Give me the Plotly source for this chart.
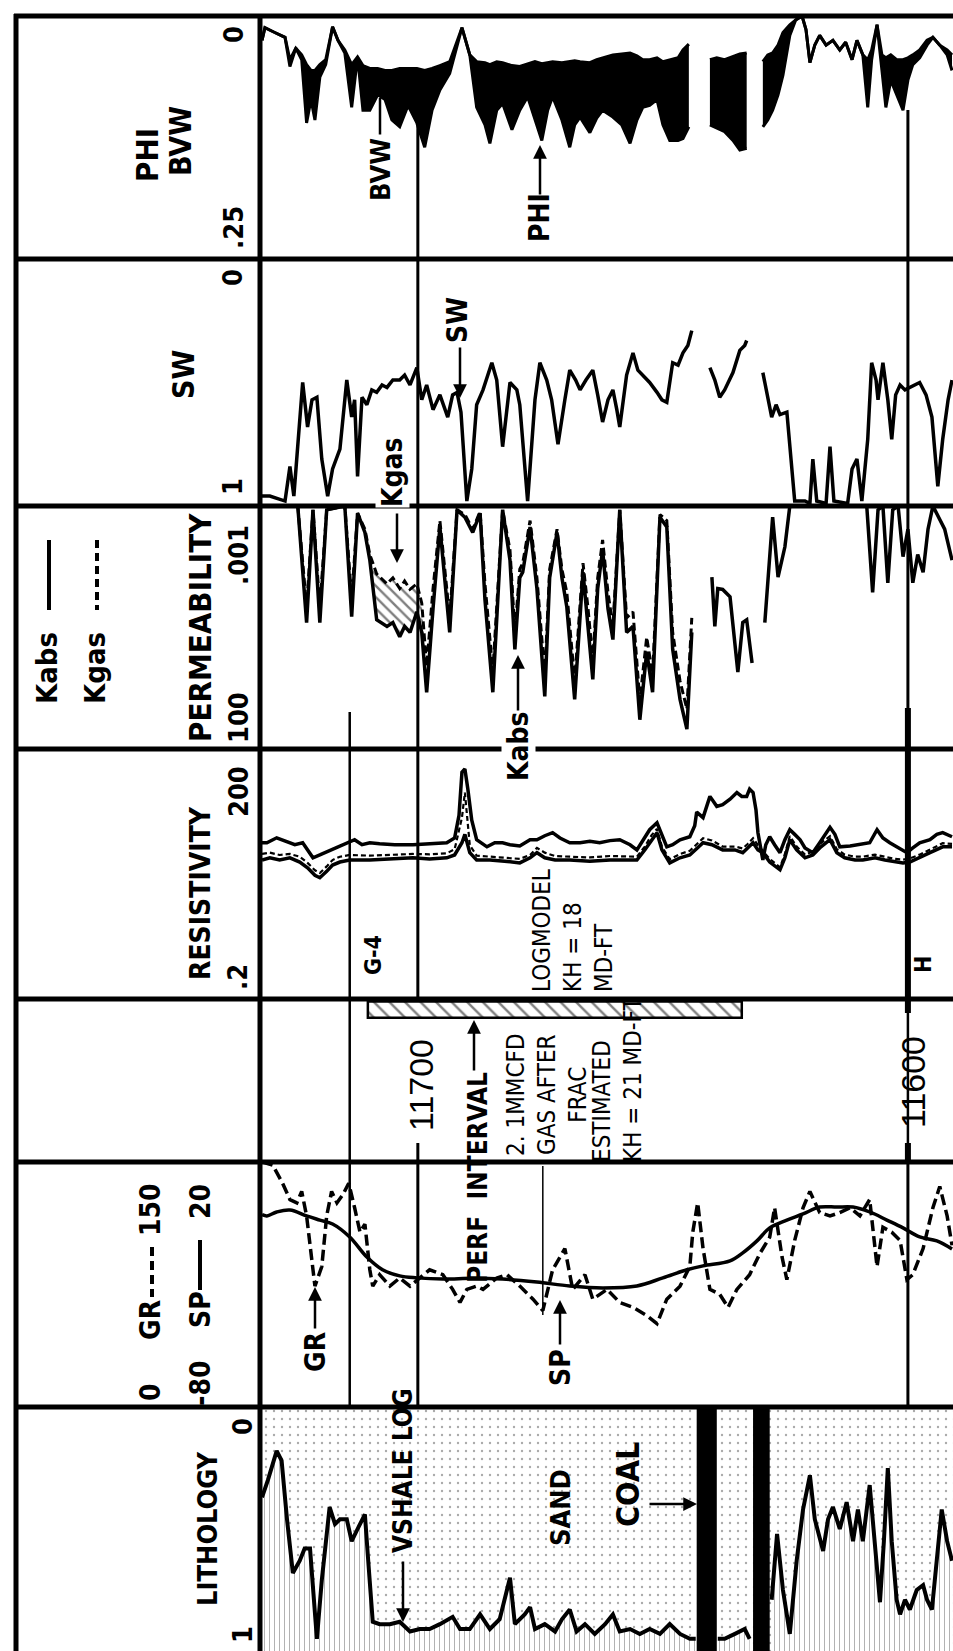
import plotly.graph_objects as go

W, H = 953, 1651
DEPTH_LEFT, DEPTH_RIGHT = 11731.8, 11590.8
TRACK_PX = [16, 259, 506, 749, 999, 1162, 1407, 1651]
NARROW = "Liberation Sans Narrow, DejaVu Sans Condensed, Arial Narrow, sans-serif"
SANS = "Liberation Sans, Arial, sans-serif"

# ---------------- data (depth in ft, values in curve units) ----------------
PHI_DEPTH = [11731.8, 11731.2, 11729.2, 11727.1, 11726.1, 11724.9, 11723.7, 11722.7, 11721.8, 11721.0,
             11720.0, 11718.8, 11717.4, 11716.3, 11714.9, 11713.5, 11712.3, 11711.2, 11709.8, 11708.2,
             11706.7, 11705.3, 11703.7, 11702.0, 11700.2, 11698.6, 11697.1, 11695.5, 11693.5, 11691.0,
             11689.4, 11688.0, 11686.3, 11685.3, 11683.9, 11682.7, 11680.8, 11679.2, 11677.6, 11676.1,
             11674.7, 11673.5, 11672.5, 11670.6, 11669.0, 11668.0, 11666.9, 11664.9, 11663.5, 11662.3,
             11660.2, 11658.4, 11656.7, 11655.3, 11654.1, 11652.7, 11651.2, 11650.0, 11648.6, 11646.9,
             11645.9, 11644.7, None,
             11640.4, 11639.0, 11637.4, 11635.7, 11634.3, 11632.9, None,
             11629.6, 11628.6, 11627.6, 11626.5, 11625.5, 11624.1, 11622.9, 11621.6, 11620.8, 11620.0,
             11619.0, 11618.0, 11616.7, 11615.3, 11613.9, 11612.7, 11611.4, 11610.4, 11609.2, 11608.2,
             11607.4, 11606.3, 11605.3, 11604.5, 11603.5, 11602.3, 11601.0, 11600.0, 11599.0, 11597.6,
             11596.1, 11594.9, 11593.5, 11592.0, 11591.0]
PHI = [0.025, 0.012, 0.017, 0.022, 0.052, 0.033, 0.045, 0.110, 0.086, 0.107,
       0.063, 0.050, 0.011, 0.025, 0.038, 0.094, 0.042, 0.097, 0.097, 0.081,
       0.086, 0.107, 0.114, 0.092, 0.110, 0.135, 0.097, 0.076, 0.059, 0.012,
       0.040, 0.094, 0.112, 0.131, 0.097, 0.090, 0.117, 0.097, 0.083, 0.107,
       0.128, 0.097, 0.083, 0.107, 0.135, 0.112, 0.104, 0.120, 0.105, 0.097,
       0.104, 0.112, 0.131, 0.107, 0.094, 0.092, 0.086, 0.112, 0.128, 0.128,
       0.126, 0.114, None,
       0.112, 0.115, 0.119, 0.128, 0.138, 0.136, None,
       0.114, 0.107, 0.097, 0.081, 0.061, 0.020, 0.004, 0.0, 0.014, 0.048,
       0.030, 0.020, 0.030, 0.025, 0.035, 0.027, 0.045, 0.025, 0.040, 0.094,
       0.045, 0.009, 0.056, 0.094, 0.066, 0.081, 0.097, 0.066, 0.050, 0.043,
       0.030, 0.022, 0.030, 0.040, 0.056]
BVW = [0.025, 0.012, 0.017, 0.022, 0.045, 0.033, 0.040, 0.050, 0.056, 0.056,
       0.050, 0.045, 0.011, 0.025, 0.035, 0.050, 0.042, 0.051, 0.054, 0.054,
       0.056, 0.056, 0.054, 0.054, 0.054, 0.056, 0.054, 0.051, 0.047, 0.012,
       0.040, 0.047, 0.048, 0.050, 0.047, 0.048, 0.051, 0.052, 0.049, 0.047,
       0.049, 0.048, 0.047, 0.048, 0.047, 0.046, 0.047, 0.048, 0.045, 0.043,
       0.040, 0.039, 0.038, 0.041, 0.045, 0.045, 0.043, 0.047, 0.045, 0.043,
       0.035, 0.029, None,
       0.045, 0.043, 0.045, 0.042, 0.039, 0.038, None,
       0.047, 0.040, 0.038, 0.030, 0.017, 0.009, 0.004, 0.0, 0.014, 0.048,
       0.030, 0.020, 0.030, 0.025, 0.035, 0.027, 0.045, 0.025, 0.040, 0.045,
       0.035, 0.009, 0.040, 0.043, 0.040, 0.045, 0.045, 0.043, 0.040, 0.035,
       0.025, 0.022, 0.030, 0.035, 0.040]

SW_DEPTH = [11731.8, 11730.2, 11727.1, 11726.1, 11725.3, 11723.5, 11722.5, 11721.6, 11720.6, 11719.6,
            11718.4, 11717.4, 11715.9, 11714.5, 11713.5, 11712.9, 11712.3, 11711.4, 11710.4, 11709.4,
            11708.4, 11707.3, 11706.3, 11705.1, 11703.7, 11702.7, 11701.6, 11700.2, 11699.2, 11698.2,
            11696.9, 11695.5, 11693.9, 11692.9, 11692.0, 11691.2, 11690.0, 11689.0, 11688.0, 11686.7,
            11684.9, 11683.9, 11682.7, 11681.2, 11679.8, 11679.2, 11677.6, 11676.1, 11675.1, 11673.7,
            11672.7, 11671.4, 11670.0, 11669.0, 11667.8, 11666.9, 11665.7, 11664.3, 11663.3, 11662.3,
            11661.2, 11660.2, 11659.4, 11658.8, 11657.4, 11656.1, 11655.1, 11653.7, 11652.7, 11651.2,
            11650.2, 11649.2, 11648.6, 11648.0, 11646.9, 11645.9, 11644.9, 11644.1, None,
            11640.4, 11639.4, 11638.4, 11637.4, 11635.7, 11634.7, 11634.3, 11633.3, 11632.9, None,
            11629.6, 11628.6, 11627.8, 11626.9, 11626.1, 11624.7, 11623.9, 11623.1, 11621.0, 11620.0,
            11619.4, 11618.6, 11616.7, 11615.9, 11615.1, 11612.3, 11611.4, 11610.4, 11609.4, 11608.2,
            11607.4, 11606.5, 11606.1, 11605.1, 11604.1, 11603.3, 11602.5, 11601.6, 11600.6, 11599.6,
            11598.6, 11597.6, 11596.3, 11595.1, 11593.9, 11592.9, 11591.8, 11591.0]
SW = [0.96, 0.96, 0.98, 0.84, 0.96, 0.50, 0.68, 0.57, 0.56, 0.81,
      0.96, 0.85, 0.77, 0.49, 0.64, 0.57, 0.88, 0.56, 0.59, 0.53,
      0.54, 0.51, 0.52, 0.49, 0.49, 0.47, 0.51, 0.44, 0.57, 0.51,
      0.61, 0.55, 0.64, 0.55, 0.54, 0.62, 0.98, 0.85, 0.59, 0.53,
      0.42, 0.49, 0.76, 0.50, 0.53, 0.59, 0.98, 0.57, 0.42, 0.49,
      0.57, 0.75, 0.57, 0.45, 0.49, 0.53, 0.49, 0.45, 0.55, 0.66,
      0.57, 0.53, 0.61, 0.68, 0.47, 0.38, 0.45, 0.48, 0.50, 0.54,
      0.57, 0.58, 0.49, 0.42, 0.43, 0.38, 0.35, 0.29, None,
      0.44, 0.49, 0.56, 0.53, 0.46, 0.39, 0.37, 0.35, 0.33, None,
      0.46, 0.57, 0.64, 0.59, 0.63, 0.62, 0.81, 0.98, 0.98, 0.99,
      0.81, 0.98, 0.99, 0.76, 0.98, 0.99, 0.85, 0.81, 0.98, 0.73,
      0.42, 0.49, 0.57, 0.42, 0.57, 0.73, 0.55, 0.51, 0.53, 0.52,
      0.51, 0.50, 0.55, 0.64, 0.92, 0.73, 0.57, 0.49]

PERM_DEPTH_A = [11731.8, 11724.5, 11722.7, 11721.4, 11720.0, 11718.6, 11714.9, 11713.5, 11712.3, 11710.8,
                11709.8, 11708.4, 11706.3, 11705.1, 11703.7, 11702.7, 11701.6, 11700.2, 11699.2, 11698.2,
                11696.9, 11695.5, 11693.5, 11692.0, 11690.4, 11688.8, 11687.3, 11686.3, 11684.7, 11682.7,
                11681.2, 11680.2, 11679.2, 11678.6, 11677.1, 11675.7, 11674.1, 11673.1, 11671.6, 11670.6,
                11669.6, 11668.0, 11666.3, 11665.3, 11664.3, 11663.3, 11662.3, 11661.2, 11660.2, 11658.8,
                11657.4, 11656.1, 11654.7, 11653.3, 11652.1, 11650.6, 11649.2, 11648.0, 11646.5, 11645.1,
                11644.1]
KABS_A = [0.001, 0.001, 0.25, 0.0012, 0.25, 0.0012, 0.001, 0.19, 0.0014, 0.0035,
          0.013, 0.22, 0.3, 0.25, 0.49, 0.3, 0.4, 0.15, 0.4, 6.8,
          0.13, 0.0027, 0.4, 0.0012, 0.0017, 0.0035, 0.0014, 0.085, 6.8, 0.0012,
          0.013, 0.89, 0.03, 0.023, 0.0027, 0.05, 8.3, 0.03, 0.0035, 0.03,
          0.12, 9.5, 0.023, 0.25, 3.7, 0.05, 0.008, 0.13, 0.56, 0.0012,
          0.4, 0.3, 25, 1.0, 6.8, 0.0017, 0.0027, 0.89, 9.5, 39,
          0.4]
KGAS_A = [0.001, 0.001, 0.12, 0.0012, 0.12, 0.0012, 0.001, 0.08, 0.0014, 0.003,
          0.01, 0.025, 0.04, 0.03, 0.05, 0.035, 0.052, 0.04, 0.1, 2.0,
          0.05, 0.002, 0.2, 0.0012, 0.0015, 0.003, 0.0013, 0.04, 2.5, 0.0012,
          0.008, 0.4, 0.02, 0.015, 0.002, 0.03, 3.0, 0.02, 0.003, 0.02,
          0.06, 4.0, 0.015, 0.12, 1.5, 0.03, 0.005, 0.06, 0.3, 0.0012,
          0.2, 0.15, 10, 0.5, 3.0, 0.0015, 0.002, 0.4, 4.0, 15,
          0.2]
KGAS_HATCH_TOP, KGAS_HATCH_BASE = 11709.8, 11698.2
PERM_DEPTH_B = [11640.0, 11639.4, 11638.8, 11637.8, 11636.3, 11634.7, 11633.7, 11632.9, 11631.8, None,
                11629.2, 11627.6, 11626.5, 11625.1, 11624.1, None,
                11608.4, 11607.2, 11606.1, 11605.1, 11604.1, 11603.1, 11602.0, 11601.0, 11600.0, 11599.0,
                11598.0, 11596.9, 11595.9, 11594.9, 11592.5, 11591.0]
KABS_B = [0.029, 0.3, 0.05, 0.052, 0.074, 2.6, 0.25, 0.22, 1.7, None,
          0.25, 0.0017, 0.029, 0.0069, 0.001, None,
          0.001, 0.06, 0.0012, 0.001, 0.038, 0.0012, 0.001, 0.011, 0.003, 0.038,
          0.01, 0.023, 0.003, 0.001, 0.003, 0.013]

RDEEP_DEPTH = [11731.8, 11730.8, 11728.8, 11726.7, 11725.1, 11723.5, 11722.5, 11721.4, 11720.0, 11718.6,
               11717.4, 11715.9, 11714.3, 11712.9, 11711.4, 11709.8, 11707.8, 11704.7, 11701.0, 11697.6,
               11694.1, 11692.5, 11691.6, 11691.0, 11690.4, 11689.8, 11689.0, 11688.0, 11685.9, 11684.3,
               11682.7, 11681.2, 11679.2, 11677.1, 11675.7, 11674.1, 11672.5, 11671.0, 11669.0, 11666.9,
               11664.9, 11662.9, 11660.8, 11658.8, 11656.7, 11655.3, 11653.7, 11652.7, 11651.2, 11650.2,
               11649.2, 11648.0, 11646.5, 11644.5, 11643.5, 11643.1, 11641.8, 11640.4, 11639.0, 11637.8,
               11636.3, 11634.9, 11633.9, 11632.9, 11632.3, 11631.6, 11631.0, 11630.6, 11629.6, 11629.0,
               11628.2, 11627.2, 11626.1, 11625.1, 11624.1, 11623.1, 11622.0, 11621.0, 11619.4, 11618.0,
               11616.9, 11615.9, 11614.9, 11613.9, 11611.8, 11609.8, 11607.8, 11606.3, 11605.1, 11603.7,
               11602.0, 11600.2, 11599.0, 11597.6, 11595.5, 11594.1, 11592.9, 11591.0]
RDEEP = [15.0, 15.0, 17.2, 15.6, 14.2, 15.0, 12.3, 9.9, 10.7, 11.6,
         12.3, 13.7, 15.0, 16.3, 14.2, 15.0, 14.6, 14.2, 14.2, 14.6,
         15.0, 17.1, 32, 105, 115, 66, 28, 16.3, 13.4, 15.0,
         15.0, 14.2, 13.7, 16.3, 16.3, 18.2, 19.8, 17.1, 15.0, 15.0,
         15.6, 15.0, 15.9, 16.3, 14.2, 12.3, 17.1, 21.5, 26, 18.7,
         13.4, 14.2, 16.3, 17.7, 24, 35, 30, 54, 41, 43,
         50, 60, 54, 54, 66, 60, 37, 19.8, 9.3, 14.2,
         17.7, 14.2, 11.4, 16.3, 21.5, 18.9, 16.3, 13.0, 11.4, 15.0,
         18.9, 23, 18.9, 13.4, 13.7, 14.2, 15.0, 21.5, 17.1, 15.0,
         13.0, 11.4, 13.0, 15.0, 16.3, 18.9, 19.8, 17.7]
RSH_DEPTH = [11731.8, 11730.2, 11728.2, 11726.1, 11724.1, 11722.5, 11721.0, 11720.0, 11718.6, 11717.4,
             11715.9, 11713.9, 11709.8, 11705.7, 11701.0, 11697.6, 11694.1, 11692.5, 11691.0, 11690.4,
             11689.4, 11688.0, 11685.3, 11682.3, 11679.2, 11677.1, 11675.7, 11674.1, 11672.0, 11669.0,
             11664.9, 11660.8, 11655.3, 11653.7, 11652.3, 11651.2, 11650.2, 11648.6, 11646.5, 11644.5,
             11641.8, 11640.0, 11637.8, 11635.3, 11633.7, 11632.7, 11631.6, 11630.6, 11629.6, 11628.2,
             11626.1, 11625.1, 11624.1, 11622.7, 11621.0, 11619.4, 11618.0, 11615.9, 11614.5, 11612.9,
             11610.8, 11609.2, 11606.7, 11604.7, 11602.7, 11601.0, 11599.6, 11597.6, 11595.5, 11592.9,
             11591.0]
RSHALLOW = [9.3, 9.9, 9.3, 9.9, 8.8, 7.5, 6.1, 5.7, 6.8, 8.1,
            8.8, 9.3, 9.3, 9.6, 9.9, 9.6, 9.9, 10.7, 15.0, 18.9,
            11.4, 9.3, 9.3, 9.0, 8.6, 9.9, 11.4, 9.9, 9.3, 9.3,
            9.0, 9.3, 9.3, 12.3, 16.3, 19.8, 12.3, 8.6, 9.9, 10.7,
            15.0, 14.2, 12.3, 12.3, 11.4, 13.0, 15.0, 12.3, 11.4, 8.8,
            7.1, 9.9, 16.3, 12.3, 9.9, 10.7, 13.0, 16.3, 11.4, 9.9,
            9.3, 9.3, 9.9, 9.3, 8.8, 8.6, 8.8, 9.9, 11.4, 13.4,
            13.4]
RMEDIUM = [11.0, 11.4, 10.7, 11.0, 10.2, 8.6, 7.0, 6.5, 7.8, 9.3,
           10.2, 10.7, 10.5, 10.7, 11.0, 10.9, 11.2, 12.5, 30, 60,
           14.0, 10.5, 10.2, 10.0, 9.6, 10.7, 13.0, 11.4, 10.4, 10.2,
           10.0, 10.4, 10.2, 13.5, 18.5, 22, 13.5, 9.5, 11.0, 12.0,
           17, 16, 13.5, 13.5, 12.8, 14.5, 17, 14, 12, 9.6,
           7.6, 11, 18, 13.5, 10.8, 11.8, 14.5, 18, 12.5, 10.8,
           10.2, 10.2, 10.8, 10.2, 9.6, 9.4, 9.7, 10.8, 12.5, 14.8,
           14.5]

GR_DEPTH = [11731.8, 11729.6, 11727.6, 11726.1, 11724.7, 11723.7, 11722.7, 11721.0, 11719.6, 11718.6,
            11717.6, 11716.5, 11715.3, 11714.1, 11712.9, 11711.8, 11710.8, 11709.8, 11709.2, 11707.8,
            11705.7, 11703.7, 11701.6, 11699.6, 11697.6, 11694.9, 11692.9, 11691.4, 11690.0, 11688.0,
            11686.7, 11683.9, 11681.8, 11679.2, 11676.5, 11674.5, 11672.5, 11670.0, 11668.4, 11665.9,
            11664.3, 11661.4, 11658.8, 11656.1, 11653.3, 11651.2, 11649.2, 11646.5, 11644.5, 11643.9,
            11642.9, 11641.8, 11640.4, 11638.4, 11636.7, 11634.9, 11632.3, 11630.2, 11628.2, 11627.2,
            11625.7, 11624.7, 11623.1, 11621.4, 11620.0, 11618.0, 11615.9, 11613.9, 11611.8, 11609.8,
            11607.8, 11606.3, 11605.1, 11603.3, 11601.6, 11600.2, 11599.0, 11596.9, 11594.9, 11593.5,
            11592.0, 11591.0]
GR = [150, 148, 137, 127, 125, 132, 117, 74, 86, 117,
      132, 125, 130, 137, 122, 107, 112, 84, 74, 81,
      74, 79, 74, 79, 84, 81, 72, 64, 72, 74,
      72, 79, 81, 74, 66, 59, 84, 97, 72, 81,
      66, 72, 64, 61, 56, 51, 66, 74, 86, 107,
      125, 97, 72, 69, 61, 72, 81, 94, 104, 122,
      92, 78, 102, 122, 132, 119, 117, 119, 122, 117,
      127, 86, 110, 107, 102, 78, 81, 97, 122, 135,
      117, 99]
SP_DEPTH = [11731.8, 11730.8, 11728.8, 11726.1, 11722.7, 11720.0, 11717.4, 11713.9, 11710.4, 11707.2,
            11703.7, 11700.2, 11694.9, 11688.8, 11682.7, 11675.7, 11669.0, 11662.3, 11655.3, 11650.0,
            11645.1, 11641.8, 11636.3, 11633.7, 11630.8, 11628.2, 11624.7, 11621.4, 11618.0, 11614.5,
            11611.2, 11607.8, 11604.3, 11601.0, 11597.6, 11594.1, 11591.0]
SP = [-1.5, -2, -0.4, 0.4, -2, -3.7, -5.3, -10.6, -18.8, -24,
      -26.5, -27.3, -27.8, -27.5, -27.8, -29, -30.6, -31.4, -30.6, -27.3,
      -24, -22.4, -20.4, -17.1, -12.2, -6.9, -3.7, -1.2, 1.6, 1.6,
      1.6, -0.4, -3.7, -6.9, -10.6, -12.2, -15.5]

VSH_DEPTH = [11731.8, 11730.6, 11728.8, 11727.8, 11726.7, 11725.5, 11724.1, 11723.1, 11722.0, 11721.2,
             11720.6, 11719.6, 11718.0, 11716.9, 11715.9, 11714.5, 11713.5, 11712.3, 11710.8, 11710.2,
             11709.2, 11707.8, 11705.7, 11703.7, 11701.6, 11699.6, 11697.6, 11695.5, 11692.9, 11691.4,
             11689.4, 11687.3, 11685.3, 11683.3, 11681.2, 11680.2, 11678.2, 11677.1, 11676.1, 11674.1,
             11672.0, 11670.6, 11669.0, 11667.6, 11665.9, 11663.9, 11661.8, 11660.2, 11658.8, 11656.7,
             11654.7, 11652.7, 11650.6, 11648.6, 11646.5, 11644.5, 11643.3, None,
             11638.8, 11637.4, 11635.3, 11633.3, 11632.3, None,
             11627.8, 11626.7, 11625.5, 11624.1, 11622.7, 11621.4, 11620.0, 11619.0, 11617.3, 11616.3,
             11615.3, 11613.9, 11612.5, 11611.2, 11610.2, 11609.2, 11607.8, 11606.7, 11605.7, 11604.9,
             11604.1, 11603.3, 11602.3, 11601.6, 11600.6, 11599.6, 11598.2, 11596.9, 11596.1, 11595.1,
             11594.1, 11593.1, 11592.0, 11591.0]
VSHALE = [0.37, 0.30, 0.18, 0.22, 0.46, 0.68, 0.63, 0.58, 0.58, 0.79,
          0.95, 0.71, 0.41, 0.48, 0.46, 0.46, 0.55, 0.50, 0.44, 0.61,
          0.88, 0.89, 0.89, 0.88, 0.92, 0.91, 0.91, 0.89, 0.86, 0.91,
          0.91, 0.85, 0.91, 0.87, 0.70, 0.89, 0.85, 0.82, 0.91, 0.89,
          0.92, 0.87, 0.83, 0.92, 0.89, 0.93, 0.89, 0.85, 0.92, 0.91,
          0.93, 0.91, 0.93, 0.89, 0.93, 0.95, 0.95, None,
          0.95, 0.95, 0.93, 0.91, 0.95, None,
          0.79, 0.52, 0.75, 0.93, 0.63, 0.42, 0.28, 0.46, 0.59, 0.46,
          0.41, 0.50, 0.39, 0.55, 0.42, 0.55, 0.32, 0.55, 0.80, 0.55,
          0.25, 0.55, 0.79, 0.85, 0.79, 0.83, 0.75, 0.73, 0.79, 0.83,
          0.63, 0.42, 0.55, 0.63]
COAL_TOP = [11643.1, 11631.6]
COAL_BASE = [11639.0, 11628.2]

PERF_TOP, PERF_BASE = 11710.2, 11633.9
FORMATION_TOPS = {"G-4": 11713.9, "H": 11600.0}
DEPTH_LABELS = [11700, 11600]
FRAC_DEPTH = 11674.5


# ---------------- helpers ----------------
def pxx(x):
    return x / W


def pxy(y):
    return 1 - y / H


def ax(i):
    return ("x" if i == 1 else f"x{i}", "y" if i == 1 else f"y{i}")


def segments(xs, ys):
    segs, cx, cy = [], [], []
    for a, b in zip(xs, ys):
        if a is None or b is None:
            if cx:
                segs.append((cx, cy))
            cx, cy = [], []
        else:
            cx.append(a)
            cy.append(b)
    if cx:
        segs.append((cx, cy))
    return segs


fig = go.Figure()


def line(x, y, i, width=3.5, dash=None, yaxis=None, shape="linear"):
    xa, ya = ax(i)
    fig.add_trace(go.Scatter(x=x, y=y, xaxis=xa, yaxis=yaxis or ya, mode="lines",
                             line=dict(color="black", width=width, dash=dash, shape=shape),
                             hoverinfo="skip"))


def poly(x, y, i, color="black", pattern=None):
    xa, ya = ax(i)
    kw = dict(x=x, y=y, xaxis=xa, yaxis=ya, mode="lines", fill="toself",
              line=dict(width=0, color=color), fillcolor=color, hoverinfo="skip")
    if pattern:
        kw["fillpattern"] = pattern
    fig.add_trace(go.Scatter(**kw))


# ---- PHI / BVW track ----
for (d, p), (_, b) in zip(segments(PHI_DEPTH, PHI), segments(PHI_DEPTH, BVW)):
    poly(d + d[::-1], p + b[::-1], 1)
line(PHI_DEPTH, PHI, 1, width=3)
line(PHI_DEPTH, BVW, 1, width=3)

# ---- SW ----
line(SW_DEPTH, SW, 2, width=3.5)

# ---- Permeability ----
idx = [k for k, d in enumerate(PERM_DEPTH_A) if KGAS_HATCH_BASE <= d <= KGAS_HATCH_TOP]
hd = [PERM_DEPTH_A[k] for k in idx]
poly(hd + hd[::-1], [KABS_A[k] for k in idx] + [KGAS_A[k] for k in idx][::-1], 3,
     color="white", pattern=dict(shape="\\", fgcolor="black", bgcolor="white", size=8, solidity=0.3))
line(PERM_DEPTH_A, KGAS_A, 3, width=3, dash="8px,4px")
line(PERM_DEPTH_A, KABS_A, 3, width=3.5)
line(PERM_DEPTH_B, KABS_B, 3, width=3.5)

# ---- Resistivity ----
line(RSH_DEPTH, RMEDIUM, 4, width=2.2, dash="5px,3px")
line(RSH_DEPTH, RSHALLOW, 4, width=3.5)
line(RDEEP_DEPTH, RDEEP, 4, width=3.5)

# ---- Perf interval bar (depth track) ----
fig.add_trace(go.Bar(x=[PERF_BASE - PERF_TOP], base=[PERF_TOP], y=[0.935], width=[0.1],
                     orientation="h", xaxis="x5", yaxis="y5", hoverinfo="skip",
                     marker=dict(color="white", line=dict(color="black", width=2.5),
                                 pattern=dict(shape="\\", fgcolor="black", bgcolor="white",
                                              size=11, solidity=0.22))))

# ---- GR / SP ----
line(GR_DEPTH, GR, 6, width=3.5, dash="11px,5px")
line(SP_DEPTH, SP, 6, width=3.5, yaxis="y8", shape="spline")

# ---- Lithology ----
poly([DEPTH_LEFT, DEPTH_RIGHT, DEPTH_RIGHT, DEPTH_LEFT], [0, 0, 1, 1], 7, color="white",
     pattern=dict(shape=".", fgcolor="#555", bgcolor="white", size=8, solidity=0.07))
for d, v in segments(VSH_DEPTH, VSHALE):
    poly(d + [d[-1], d[0]], v + [1, 1], 7, color="white",
         pattern=dict(shape="|", fgcolor="#555", bgcolor="white", size=5, solidity=0.18))
for t, b in zip(COAL_TOP, COAL_BASE):
    poly([t, b, b, t], [0, 0, 1, 1], 7, color="black")
line(VSH_DEPTH, VSHALE, 7, width=4)

# ---------------- layout ----------------
layout = dict(width=W, height=H, margin=dict(l=0, r=0, t=0, b=0), paper_bgcolor="white",
              plot_bgcolor="white", showlegend=False, barmode="overlay")
ranges = {1: ([0.25, 0], "linear"), 2: ([1, 0], "linear"), 3: ([2, -3], "log"),
          4: ([-0.699, 2.301], "log"), 5: ([0, 1], "linear"), 6: ([0, 150], "linear"),
          7: ([1, 0], "linear")}
for i in range(1, 8):
    xk = "xaxis" if i == 1 else f"xaxis{i}"
    yk = "yaxis" if i == 1 else f"yaxis{i}"
    xa, ya = ax(i)
    top, bot = TRACK_PX[i - 1], TRACK_PX[i]
    layout[xk] = dict(domain=[262 / W, 1.0], range=[DEPTH_LEFT, DEPTH_RIGHT], visible=False,
                      anchor=ya, fixedrange=True)
    layout[yk] = dict(domain=[pxy(bot), pxy(top)], range=ranges[i][0], type=ranges[i][1],
                      visible=False, anchor=xa, fixedrange=True)
layout["yaxis8"] = dict(overlaying="y6", range=[-80, 20], visible=False, anchor="x6", fixedrange=True)

shapes = []


def pline(x0, y0, x1, y1, w=5, dash=None):
    shapes.append(dict(type="line", xref="paper", yref="paper", x0=pxx(x0), y0=pxy(y0),
                       x1=pxx(x1), y1=pxy(y1), line=dict(color="black", width=w, dash=dash),
                       layer="above"))


def dline(depth, y0, y1, w=3):
    shapes.append(dict(type="line", xref="x", yref="paper", x0=depth, x1=depth,
                       y0=pxy(y0), y1=pxy(y1), line=dict(color="black", width=w), layer="above"))


for y in TRACK_PX[:-1]:
    pline(14, y, W, y, w=5)
pline(16, 14, 16, H, w=5)
pline(260, 14, 260, H, w=5)

# legend strokes in header column
pline(49, 540, 49, 610, w=4)
pline(97, 540, 97, 610, w=4, dash="8px,5px")
pline(152, 1247, 152, 1297, w=4, dash="9px,5px")
pline(200, 1240, 200, 1290, w=4)

# depth marker lines
dline(FORMATION_TOPS["G-4"], 712, 1407, w=2.5)
dline(DEPTH_LABELS[0], 123, 1000, w=3)
dline(DEPTH_LABELS[0], 1143, 1407, w=3)
dline(DEPTH_LABELS[1], 110, 708, w=3)
dline(DEPTH_LABELS[1], 708, 1013, w=6)
dline(DEPTH_LABELS[1], 1013, 1143, w=2.5)
dline(DEPTH_LABELS[1], 1143, 1162, w=6)
dline(DEPTH_LABELS[1], 1162, 1405, w=3)
dline(FRAC_DEPTH, 1166, 1315, w=1.5)
layout["shapes"] = shapes

ann = []


def txt(x, y, s, size=30, bold=True, family=NARROW, bg=None, align="center", angle=-90):
    ann.append(dict(x=pxx(x), y=pxy(y), xref="paper", yref="paper", text=f"<b>{s}</b>" if bold else s,
                    showarrow=False, textangle=angle, xanchor="center", yanchor="middle",
                    font=dict(family=family, size=size, color="black"), align=align,
                    bgcolor=bg, borderpad=0))


def arrow(xt, yt, xs, ys, head=2, w=2.5):
    ann.append(dict(x=pxx(xt), y=pxy(yt), xref="paper", yref="paper", text="", showarrow=True,
                    ax=xs - xt, ay=ys - yt, axref="pixel", ayref="pixel", arrowhead=head,
                    arrowwidth=w, arrowsize=1.1, arrowcolor="black", standoff=0, startstandoff=0))


# header column
txt(147, 155, "PHI", 31)
txt(180, 141, "BVW", 30)
txt(233, 35, "0", 27)
txt(233, 228, ".25", 27)
txt(183, 375, "SW", 30)
txt(233, 278, "0", 27)
txt(233, 487, "1", 27)
txt(47, 668, "Kabs", 29)
txt(95, 668, "Kgas", 29)
txt(200, 628, "PERMEABILITY", 31)
txt(238, 555, ".001", 27)
txt(238, 718, "100", 27)
txt(200, 893, "RESISTIVITY", 28)
txt(238, 792, "200", 27)
txt(238, 977, ".2", 27)
txt(150, 1392, "0", 28)
txt(150, 1320, "GR", 28)
txt(150, 1210, "150", 28)
txt(200, 1383, "-80", 28)
txt(200, 1310, "SP", 28)
txt(200, 1202, "20", 28)
txt(207, 1529, "LITHOLOGY", 27)
txt(242, 1427, "0", 27)
txt(242, 1635, "1", 27)

# in-track labels
txt(380, 170, "BVW", 27)
arrow(380, 98, 380, 136, head=0)
txt(540, 218, "PHI", 28)
arrow(540, 145, 540, 196)
txt(458, 320, "SW", 28)
arrow(460, 398, 460, 346)
txt(393, 472, "Kgas", 28, bg="white")
arrow(397, 563, 397, 512)
txt(518, 746, "Kabs", 28, bg="white")
arrow(518, 655, 518, 712)
txt(373, 955, "G-4", 23)
txt(923, 965, "H", 23)
txt(573, 931, "LOGMODEL<br>KH = 18<br>MD-FT", 24, bold=False, align="left")
txt(478, 1178, "PERF  INTERVAL", 26)
arrow(474, 1020, 474, 1072)
txt(421, 1085, "11700", 34, bold=False, family=SANS)
txt(547, 1095, "2. 1MMCFD<br>GAS AFTER<br>FRAC", 24, bold=False)
txt(617, 1079, "ESTIMATED<br>KH = 21 MD-FT", 24, bold=False, align="left")
txt(913, 1082, "11600", 34, bold=False, family=SANS)
txt(315, 1352, "GR", 28)
arrow(315, 1287, 315, 1330)
txt(560, 1368, "SP", 28)
arrow(560, 1300, 560, 1346)
txt(403, 1471, "VSHALE LOG", 26)
arrow(403, 1622, 403, 1560)
txt(560, 1508, "SAND", 27)
txt(628, 1485, "COAL", 32)
arrow(697, 1504, 648, 1504)
layout["annotations"] = ann

fig.update_layout(**layout)
fig.write_html("out.html", config={"displayModeBar": False, "staticPlot": True},
               post_script="document.body.style.margin='0';")
